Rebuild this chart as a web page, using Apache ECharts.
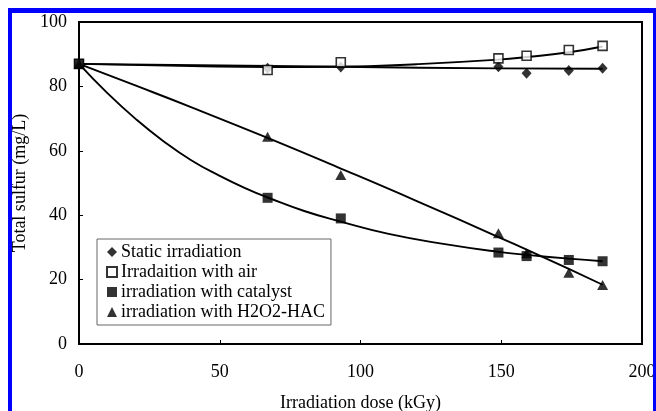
<!DOCTYPE html>
<html>
<head>
<meta charset="utf-8">
<script src="https://cdn.jsdelivr.net/npm/echarts@6/dist/echarts.min.js"></script>
<style>
  html, body { margin: 0; padding: 0; background: #fff; }
  #wrap { position: relative; width: 656px; height: 411px; }
  #chart { position: absolute; left: 0; top: 0; width: 656px; height: 411px; }
  #frame {
    position: absolute; left: 8px; top: 8px; right: 0; bottom: -5px;
    border-top: 5px solid #0000ff; border-left: 4px solid #0000ff; border-right: 3px solid #0000ff;
    pointer-events: none;
  }
</style>
</head>
<body>
<div id="wrap">
  <div id="chart"></div>
  <div id="frame"></div>
</div>
<script>
  // measured doses (kGy)
  const doses = [0, 67, 93, 149, 159, 174, 186];
  // total sulfur (mg/L) per condition
  const staticIrr = [87, 85.6, 86, 86.1, 84.1, 84.9, 85.6];
  const airIrr = [87, 85.1, 87.5, 88.7, 89.5, 91.3, 92.6];
  const catalystIrr = [87, 45.4, 39, 28.4, 27.3, 26.1, 25.7];
  const h2o2Irr = [87, 64.4, 52.5, 34.4, 28.2, 22.1, 18.3];

  // trend curves as [dose, sulfur]
  const staticTrend = [[0, 87], [93, 86.1], [149, 85.6], [186, 85.5]];
  const airTrend = [[0, 87], [40, 86.3], [67, 86], [93, 86.1], [120, 86.9], [149, 88.3], [160, 89.2], [174, 90.6], [186, 92.4]];
  const catalystTrend = [[0, 87], [10, 78], [20, 70], [30, 63], [40, 57], [50, 52.2], [60, 48], [67, 45.5], [80, 41.3],
    [93, 38], [110, 34.2], [130, 31], [149, 28.6], [160, 27.6], [174, 26.5], [186, 25.7]];
  const h2o2Trend = [[0, 87], [20, 80.3], [40, 73.5], [67, 64], [93, 54.5], [120, 44.4], [149, 33.2], [160, 28.9], [174, 23.3], [186, 18.4]];

  const names = ['Static irradiation', 'Irradaition with air', 'irradiation with catalyst', 'irradiation with H2O2-HAC'];

  const font = 'Liberation Serif';
  const pairs = ys => doses.map((d, i) => [d, ys[i]]);

  function trend(data) {
    return {
      type: 'line', data: data, smooth: 0.5, showSymbol: false, silent: true,
      lineStyle: { color: '#000', width: 1.9 }, z: 2
    };
  }

  const chart = echarts.init(document.getElementById('chart'));
  chart.setOption({
    animation: false,
    backgroundColor: '#fff',
    textStyle: { fontFamily: font, color: '#000' },
    grid: {
      left: 79, top: 22, right: 14, bottom: 67, outerBoundsMode: 'none',
      show: true, borderColor: '#000', borderWidth: 2
    },
    legend: {
      data: names,
      orient: 'vertical',
      left: 97, top: 239,
      itemWidth: 10, itemHeight: 10, itemGap: 2,
      padding: [4, 6, 4, 9],
      backgroundColor: '#fff',
      borderColor: '#666', borderWidth: 1, borderRadius: 0,
      textStyle: { fontFamily: font, fontSize: 18, color: '#000', lineHeight: 18, padding: [0, 0, 0, -1] }
    },
    xAxis: {
      type: 'value', min: 0, max: 200, interval: 50,
      name: 'Irradiation dose (kGy)', nameLocation: 'middle', nameGap: 50,
      nameTextStyle: { fontFamily: font, fontSize: 18, color: '#000' },
      axisLine: { lineStyle: { color: '#000', width: 2 } },
      axisTick: { inside: true, length: 4, lineStyle: { color: '#000', width: 1 } },
      axisLabel: { fontFamily: font, fontSize: 18, color: '#000', margin: 19 },
      splitLine: { show: false }
    },
    yAxis: {
      type: 'value', min: 0, max: 100, interval: 20,
      name: 'Total sulfur (mg/L)', nameLocation: 'middle', nameGap: 48,
      nameTextStyle: { fontFamily: font, fontSize: 18, color: '#000' },
      axisLine: { lineStyle: { color: '#000', width: 2 } },
      axisTick: { inside: true, length: 4, lineStyle: { color: '#000', width: 1 } },
      axisLabel: { fontFamily: font, fontSize: 18, color: '#000', margin: 12 },
      splitLine: { show: false }
    },
    series: [
      trend(staticTrend),
      trend(airTrend),
      trend(catalystTrend),
      trend(h2o2Trend),
      {
        name: names[0], type: 'scatter', data: pairs(staticIrr),
        symbol: 'diamond', symbolSize: [10, 11], itemStyle: { color: '#000' }, z: 3
      },
      {
        name: names[1], type: 'scatter', data: pairs(airIrr),
        symbol: 'rect', symbolSize: 9,
        itemStyle: { color: '#fff', borderColor: '#000', borderWidth: 1.6 }, z: 4
      },
      {
        name: names[2], type: 'scatter', data: pairs(catalystIrr),
        symbol: 'rect', symbolSize: 10, itemStyle: { color: '#000' }, z: 5
      },
      {
        name: names[3], type: 'scatter', data: pairs(h2o2Irr),
        symbol: 'triangle', symbolSize: [11, 10], itemStyle: { color: '#000' }, z: 5
      }
    ]
  });
</script>
</body>
</html>
